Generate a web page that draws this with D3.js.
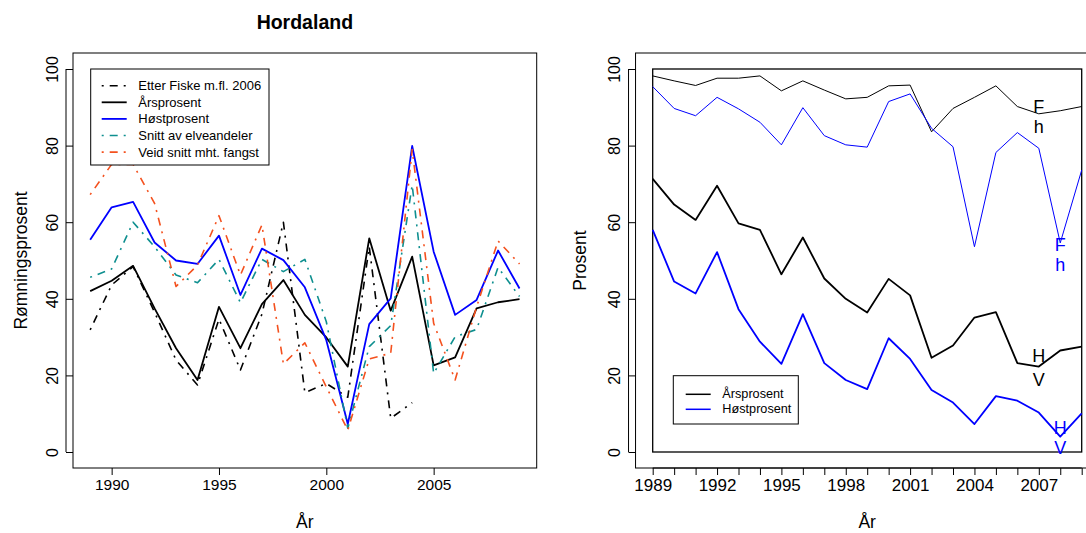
<!DOCTYPE html>
<html><head><meta charset="utf-8">
<script src="https://cdn.jsdelivr.net/npm/d3@7"></script>
<style>
html,body{margin:0;padding:0;background:#fff;}
svg{display:block;font-family:"Liberation Sans",Arial,sans-serif;}
</style></head>
<body>
<svg id="c" width="1086" height="533"></svg>
<script>
// ---------- data ----------
const years = [1989,1990,1991,1992,1993,1994,1995,1996,1997,1998,1999,2000,2001,2002,2003,2004,2005,2006,2007,2008,2009];
const fiske = [31.9,43.6,48.4,36.5,24.0,17.5,34.7,21.4,36.0,60.0,15.5,17.9,14.3,53.6,8.8,12.9,null,null,null,null,null];
const aarsprosent = [42.0,44.7,48.6,37.5,27.1,18.8,37.9,27.1,38.6,44.9,35.8,29.9,22.3,55.8,36.9,51.0,22.6,24.7,37.5,39.1,39.9];
const hostprosent = [55.4,63.9,65.3,54.7,50.0,49.1,56.5,41.0,53.1,50.1,43.0,29.2,7.3,33.4,40.1,79.9,52.3,35.8,39.7,52.6,42.7];
const snittElv = [45.6,47.8,60.0,53.6,46.2,44.2,50.3,39.0,50.3,47.1,50.3,34.0,6.2,27.5,33.0,69.7,20.5,30.1,32.0,48.2,40.6];
const veidSnitt = [67.2,75.1,75.1,64.9,43.2,48.8,61.7,46.2,59.3,23.0,28.5,17.0,5.7,24.3,25.8,79.0,33.6,18.8,37.9,55.1,49.1];

const rightAarTop = [98.2,96.9,95.7,97.6,97.6,98.2,94.3,96.9,94.5,92.2,92.6,95.6,95.8,83.6,89.7,92.6,95.6,90.2,88.3,89.1,90.2];
const rightHostTop = [95.4,89.7,87.8,92.6,89.6,86.1,80.2,89.9,82.6,80.2,79.6,91.5,93.5,84.5,79.7,53.6,78.2,83.4,79.3,54.6,73.6];
const rightAars = [71.3,64.6,60.6,69.5,59.7,58.0,46.4,56.0,45.3,40.0,36.4,45.2,40.9,24.6,27.8,35.1,36.5,23.2,22.3,26.5,27.5];
const rightHost = [58.0,44.5,41.4,52.2,37.3,28.8,23.0,36.0,23.2,18.8,16.4,29.7,24.3,16.2,12.9,7.3,14.6,13.4,10.3,4.0,10.1];

const leftXTicks = [1990,1995,2000,2005];
const yTicks = [0,20,40,60,80,100];
const rightXLabels = [1989,1992,1995,1998,2001,2004,2007];
const legendLeft = ["Etter Fiske m.fl. 2006","Årsprosent","Høstprosent","Snitt av elveandeler","Veid snitt mht. fangst"];
const legendRight = ["Årsprosent","Høstprosent"];
const markLabels = [
  {t:"F", year:2007, v:90.2, c:"#000"},{t:"h", year:2007, v:84.9, c:"#000"},
  {t:"F", year:2008, v:54.0, c:"#0000ff"},{t:"h", year:2008, v:48.8, c:"#0000ff"},
  {t:"H", year:2007, v:25.0, c:"#000"},{t:"V", year:2007, v:18.8, c:"#000"},
  {t:"H", year:2008, v:6.3, c:"#0000ff"},{t:"V", year:2008, v:1.0, c:"#0000ff"}
];

// ---------- setup ----------
const svg = d3.select("#c");
const TICKFS = 15.5, LABFS = 17.5;
const yScale = d3.scaleLinear().domain([0,100]).range([452,69]);
const boxTop = 53, boxBot = 468;

const ORANGE = "#f4511e", TEAL = "#0e8f8f", BLUE = "#0000ff";
const DASH = "2,6,8,6";

function yAxis(g, x0){
  const ax = d3.axisLeft(yScale).tickValues(yTicks).tickSize(7).tickPadding(4).tickFormat(d3.format("d"));
  const a = g.append("g").attr("transform",`translate(${x0},0)`).call(ax);
  a.select(".domain").remove();
  a.append("line").attr("x1",-7).attr("x2",-7).attr("y1",yScale(0)).attr("y2",yScale(100)).attr("stroke","#000");
  a.selectAll(".tick line").attr("x1",-7).attr("x2",0);
  a.selectAll(".tick text").attr("font-size",16).attr("font-family","Liberation Sans, Arial")
   .attr("fill","#000").attr("text-anchor","middle").attr("dy",null)
   .attr("transform","translate(-21,0) rotate(-90)").attr("x",0).attr("y",0).attr("dominant-baseline","central");
}

// ---------- left panel ----------
const xL = d3.scaleLinear().domain([1988.2,2009.8]).range([73,536.7]);
const gL = svg.append("g");
gL.append("rect").attr("x",xL(1988.2)).attr("y",boxTop).attr("width",xL(2009.8)-xL(1988.2)).attr("height",boxBot-boxTop)
  .attr("fill","none").attr("stroke","#000").attr("stroke-width",1);
yAxis(gL, 73);
{
  const ax = d3.axisBottom(xL).tickValues(leftXTicks).tickSize(7).tickPadding(4).tickFormat(d3.format("d"));
  const a = gL.append("g").attr("transform",`translate(0,${boxBot})`).call(ax);
  a.select(".domain").remove();
  a.selectAll(".tick text").attr("font-size",TICKFS).attr("font-family","Liberation Sans, Arial").attr("fill","#000");
}
gL.append("text").attr("x",(73+536.7)/2).attr("y",528).attr("text-anchor","middle").attr("font-size",LABFS).text("År");
gL.append("text").attr("transform",`translate(21,${(boxTop+boxBot)/2}) rotate(-90)`).attr("text-anchor","middle")
  .attr("font-size",LABFS).attr("dominant-baseline","central").text("Rømningsprosent");
svg.append("text").attr("x",(73+536.7)/2).attr("y",29).attr("text-anchor","middle").attr("font-size",19.5)
  .attr("font-weight","bold").text("Hordaland");

const lineL = d3.line().defined(d=>d[1]!=null).x(d=>xL(d[0])).y(d=>yScale(d[1]));
const seriesL = [
  {v:fiske, c:"#000", dash:DASH, w:1.6},
  {v:aarsprosent, c:"#000", dash:null, w:1.8},
  {v:hostprosent, c:BLUE, dash:null, w:1.8},
  {v:snittElv, c:TEAL, dash:DASH, w:1.6},
  {v:veidSnitt, c:ORANGE, dash:DASH, w:1.6}
];
seriesL.forEach(s=>{
  gL.append("path").datum(years.map((y,i)=>[y,s.v[i]])).attr("d",lineL)
   .attr("fill","none").attr("stroke",s.c).attr("stroke-width",s.w)
   .attr("stroke-dasharray",s.dash).attr("stroke-linejoin","round");
});
// legend left
{
  const lg = gL.append("g");
  lg.append("rect").attr("x",90.7).attr("y",69).attr("width",178.3).attr("height",96)
    .attr("fill","#fff").attr("stroke","#000").attr("stroke-width",1);
  legendLeft.forEach((t,i)=>{
    const y = 85.7 + i*16.6;
    const s = seriesL[i];
    lg.append("line").attr("x1",101.7).attr("x2",126.7).attr("y1",y).attr("y2",y)
      .attr("stroke",s.c).attr("stroke-width",s.w).attr("stroke-dasharray",s.dash);
    lg.append("text").attr("x",138.3).attr("y",y).attr("dominant-baseline","central")
      .attr("font-size",13).text(t);
  });
}

// ---------- right panel ----------
const xR = d3.scaleLinear().domain([1989,2009]).range([652.7,1081.7]);
const gR = svg.append("g");
gR.append("rect").attr("x",xR(1988.2)).attr("y",boxTop).attr("width",xR(2009.8)-xR(1988.2)).attr("height",boxBot-boxTop)
  .attr("fill","none").attr("stroke","#000").attr("stroke-width",1);
gR.append("rect").attr("x",xR(1989)).attr("y",yScale(100)).attr("width",xR(2009)-xR(1989)).attr("height",yScale(0)-yScale(100))
  .attr("fill","none").attr("stroke","#000").attr("stroke-width",1.3);
yAxis(gR, xR(1988.2));
{
  const ax = d3.axisBottom(xR).tickValues(years).tickSize(7).tickPadding(4)
    .tickFormat(d=> rightXLabels.includes(d) ? String(d) : "");
  const a = gR.append("g").attr("transform",`translate(0,${boxBot})`).call(ax);
  a.select(".domain").remove();
  a.append("line").attr("x1",xR(1989)).attr("x2",xR(2009)).attr("y1",0).attr("y2",0).attr("stroke","#000");
  a.selectAll(".tick text").attr("font-size",17).attr("font-family","Liberation Sans, Arial").attr("fill","#000");
}
gR.append("text").attr("x",(xR(1988.2)+xR(2009.8))/2).attr("y",528).attr("text-anchor","middle").attr("font-size",LABFS).text("År");
gR.append("text").attr("transform",`translate(580,${(boxTop+boxBot)/2}) rotate(-90)`).attr("text-anchor","middle")
  .attr("font-size",LABFS).attr("dominant-baseline","central").text("Prosent");

const lineR = d3.line().x(d=>xR(d[0])).y(d=>yScale(d[1]));
const seriesR = [
  {v:rightAarTop, c:"#000", w:1},
  {v:rightHostTop, c:BLUE, w:1},
  {v:rightAars, c:"#000", w:1.8},
  {v:rightHost, c:BLUE, w:1.8}
];
seriesR.forEach(s=>{
  gR.append("path").datum(years.map((y,i)=>[y,s.v[i]])).attr("d",lineR)
   .attr("fill","none").attr("stroke",s.c).attr("stroke-width",s.w).attr("stroke-linejoin","round");
});
markLabels.forEach(m=>{
  gR.append("text").attr("x",xR(m.year)).attr("y",yScale(m.v)).attr("text-anchor","middle")
    .attr("dominant-baseline","central").attr("font-size",18).attr("fill",m.c).text(m.t);
});
{
  const lg = gR.append("g");
  lg.append("rect").attr("x",673.3).attr("y",375.7).attr("width",125).attr("height",48.3)
    .attr("fill","#fff").attr("stroke","#000").attr("stroke-width",1);
  legendRight.forEach((t,i)=>{
    const y = 394.3 + i*15;
    lg.append("line").attr("x1",685.7).attr("x2",710.7).attr("y1",y).attr("y2",y)
      .attr("stroke",i===0?"#000":BLUE).attr("stroke-width",1.5);
    lg.append("text").attr("x",722.3).attr("y",y).attr("dominant-baseline","central")
      .attr("font-size",12.7).text(t);
  });
}
</script>
</body></html>
